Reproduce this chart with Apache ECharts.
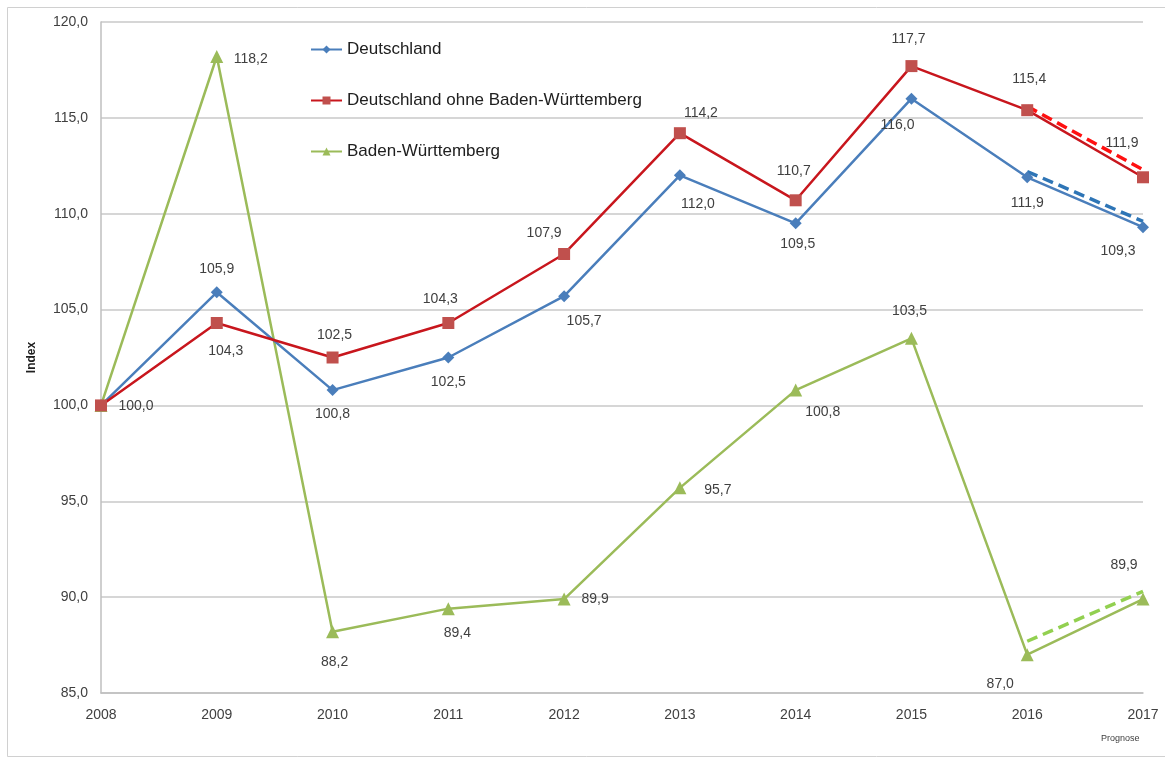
<!DOCTYPE html>
<html>
<head>
<meta charset="utf-8">
<script src="https://cdn.jsdelivr.net/npm/echarts@6/dist/echarts.min.js"></script>
<style>
html,body{margin:0;padding:0;background:#fff;}
#chart{width:1165px;height:758px;}
</style>
</head>
<body>
<div id="chart"></div>
<script>
// ---- data ----
var years = ['2008','2009','2010','2011','2012','2013','2014','2015','2016','2017'];
var deutschland = [100.0, 105.9, 100.8, 102.5, 105.7, 112.0, 109.5, 116.0, 111.9, 109.3];
var ohneBW = [100.0, 104.3, 102.5, 104.3, 107.9, 114.2, 110.7, 117.7, 115.4, 111.9];
var bw = [100.0, 118.2, 88.2, 89.4, 89.9, 95.7, 100.8, 103.5, 87.0, 89.9];
// forecast (dashed) segments 2016 -> 2017 as drawn
var deutschlandPrognose = [null, null, null, null, null, null, null, null, 112.2, 109.6];
var ohneBWPrognose = [null, null, null, null, null, null, null, null, 115.6, 112.3];
var bwPrognose = [null, null, null, null, null, null, null, null, 87.7, 90.3];
var yTicks = {min: 85, max: 120, interval: 5};

// ---- label offsets (style) ----
var deOff = [[35,1],[0,-23],[0,24],[0,25],[20,25],[18,29],[2,21],[-14,26],[0,26],[-25,24]];
var ohOff = [null,[9,28],[2,-22],[-8,-24],[-20,-21],[21,-20],[-2,-29],[-3,-27],[2,-31],[-21,-34]];
var bwOff = [null,[34,3],[2,30],[9,24],[31,0],[38,2],[27,22],[-2,-27],[-27,29],[-19,-34]];

function fmt(v){ return v.toFixed(1).replace('.', ','); }

function withLabels(vals, offs){
  return vals.map(function(v,i){
    var o = offs[i];
    if (!o) return {value: v, label: {show: false}};
    return {value: v, label: {show: true, position: 'inside', offset: o}};
  });
}

var FONT = '"Liberation Sans", Arial, sans-serif';
var labelStyle = {color: '#404040', fontSize: 14, fontFamily: FONT,
  formatter: function(p){ return fmt(p.value); }};

var chart = echarts.init(document.getElementById('chart'));
chart.setOption({
  backgroundColor: '#ffffff',
  animation: false,
  textStyle: {fontFamily: FONT},
  graphic: [
    {type: 'rect', shape: {x: 7.5, y: 7.5, width: 1170, height: 749},
     style: {fill: 'none', stroke: '#D0D0D0', lineWidth: 1}, silent: true},
    {type: 'text', left: 1101, top: 734,
     style: {text: 'Prognose', fontSize: 9, fill: '#404040', fontFamily: FONT}}
  ],
  grid: {left: 101, right: 22, top: 22, bottom: 65, containLabel: false},
  legend: {
    orient: 'vertical', left: 305, top: 36, itemGap: 34,
    itemWidth: 31, itemHeight: 10,
    data: ['Deutschland', 'Deutschland ohne Baden-Württemberg', 'Baden-Württemberg'],
    textStyle: {fontSize: 17, color: '#202020', fontFamily: FONT}
  },
  xAxis: {
    type: 'category', data: years, boundaryGap: false,
    axisLine: {show: true, lineStyle: {color: '#BFBFBF', width: 1.5}},
    axisTick: {show: false},
    axisLabel: {color: '#404040', fontSize: 14, margin: 15, fontFamily: FONT},
    splitLine: {show: false}
  },
  yAxis: {
    type: 'value', min: yTicks.min, max: yTicks.max, interval: yTicks.interval,
    name: 'Index', nameLocation: 'middle', nameGap: 63, nameRotate: 90,
    nameTextStyle: {color: '#202020', fontSize: 12, fontWeight: 'bold', fontFamily: FONT},
    axisLine: {show: true, lineStyle: {color: '#BFBFBF', width: 1.5}},
    axisTick: {show: false},
    axisLabel: {color: '#404040', fontSize: 14, margin: 13, fontFamily: FONT,
      formatter: function(v){ return fmt(v); }},
    splitLine: {show: true, lineStyle: {color: '#C8C8C8', width: 1.5}}
  },
  series: [
    {name: 'Baden-Württemberg', type: 'line', data: withLabels(bw, bwOff),
     symbol: 'triangle', symbolSize: 13,
     lineStyle: {color: '#9BBB59', width: 2.5}, itemStyle: {color: '#9BBB59'},
     label: labelStyle, z: 3},
    {name: 'Deutschland', type: 'line', data: withLabels(deutschland, deOff),
     symbol: 'diamond', symbolSize: 12,
     lineStyle: {color: '#4A7EBB', width: 2.5}, itemStyle: {color: '#4A7EBB'},
     label: labelStyle, z: 4},
    {name: 'Deutschland ohne Baden-Württemberg', type: 'line', data: withLabels(ohneBW, ohOff),
     symbol: 'rect', symbolSize: 12,
     lineStyle: {color: '#C8161D', width: 2.5}, itemStyle: {color: '#C0504D'},
     label: labelStyle, z: 5},
    {name: 'dePrognose', type: 'line', data: deutschlandPrognose, showSymbol: false,
     lineStyle: {color: '#2E75B6', width: 3.5, type: [11, 6]}, z: 2},
    {name: 'ohPrognose', type: 'line', data: ohneBWPrognose, showSymbol: false,
     lineStyle: {color: '#FF1010', width: 3.5, type: [11, 6]}, z: 2},
    {name: 'bwPrognose', type: 'line', data: bwPrognose, showSymbol: false,
     lineStyle: {color: '#92D050', width: 3.5, type: [11, 6]}, z: 2}
  ]
});
</script>
</body>
</html>
